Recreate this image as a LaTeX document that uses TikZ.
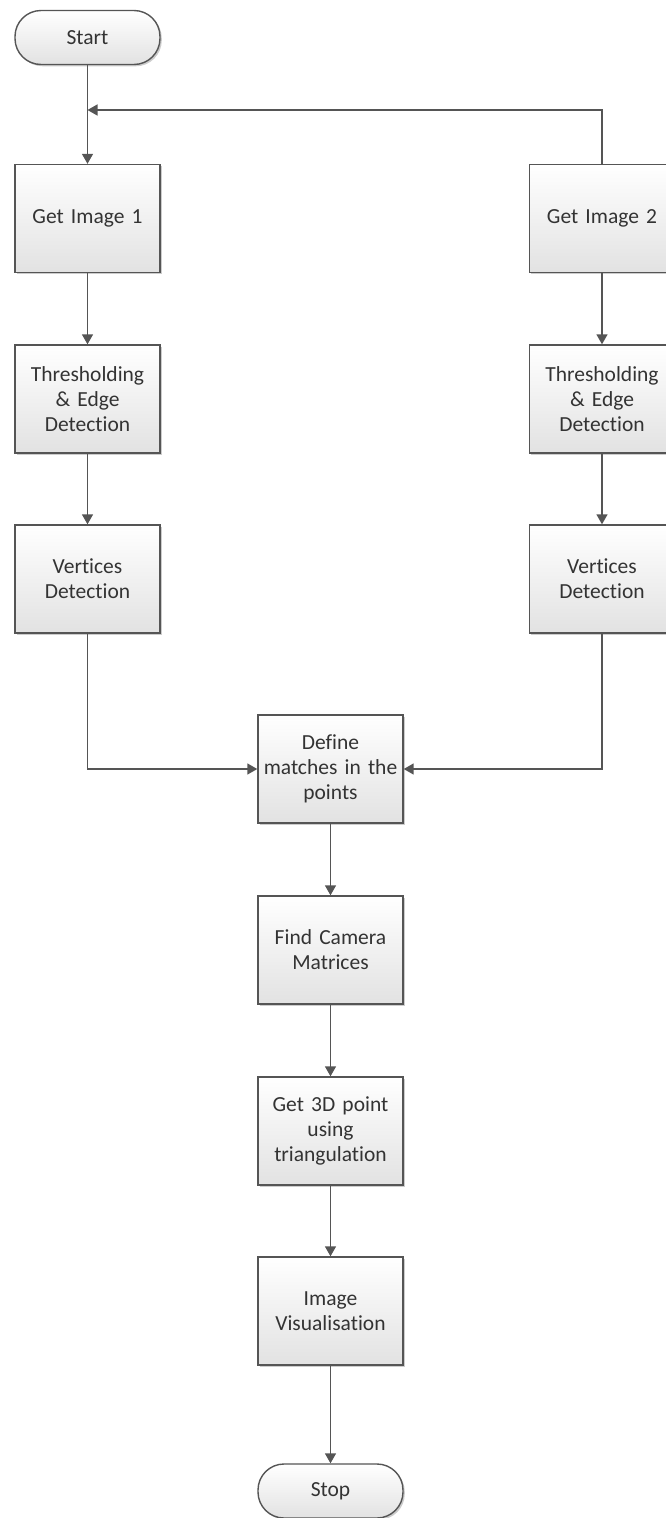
\documentclass[tikz,border=0pt]{standalone}
\usepackage{fontspec}
\setmainfont{Carlito}[RawFeature=-liga]
\usetikzlibrary{arrows.meta,shadows}
\definecolor{edge}{HTML}{555555}
\definecolor{ink}{HTML}{333333}
\definecolor{shadebottom}{HTML}{E2E2E2}
\begin{document}
\begin{tikzpicture}[x=1pt,y=-1pt,
  basebox/.style={draw=edge, line width=1.4pt, align=center,
    top color=white, bottom color=shadebottom, text=ink,
    font=\fontsize{21.5}{25}\selectfont,
    drop shadow={shadow xshift=1.8pt, shadow yshift=-1.8pt, fill=black, opacity=0.2}},
  procbox/.style={basebox, rectangle, minimum width=145pt, minimum height=108pt,
    inner sep=1pt, text width=143pt},
  termbox/.style={basebox, rectangle, rounded corners=26pt,
    minimum width=145pt, minimum height=54pt, inner sep=2pt},
  flow/.style={draw=edge, line width=1.5pt, -{Triangle[width=11pt,length=10pt]}}]

\useasboundingbox (0,0) rectangle (665,1518);

% left branch
\node[termbox] (start) at (87.5,37.5) {Start};
\node[procbox] (img1) at (87.5,218.5) {Get Image 1};
\node[procbox] (thr1) at (87.5,399) {Thresholding\\\& Edge\\Detection};
\node[procbox] (ver1) at (87.5,579) {Vertices\\Detection};

% right branch
\node[procbox] (img2) at (602,218.5) {Get Image 2};
\node[procbox] (thr2) at (602,399) {Thresholding\\\& Edge\\Detection};
\node[procbox] (ver2) at (602,579) {Vertices\\Detection};

% common trunk
\node[procbox] (match) at (330.5,769) {Define\\matches in the\\points};
\node[procbox] (cam) at (330.5,950) {Find Camera\\Matrices};
\node[procbox] (tri) at (330.5,1131) {Get 3D point\\using\\triangulation};
\node[procbox] (vis) at (330.5,1311) {Image\\Visualisation};
\node[termbox] (stop) at (330.5,1491) {Stop};

\coordinate (merge) at (87.5,110);

\draw[flow] (start) -- (img1);
\draw[flow] (img2.north) |- (merge);
\draw[flow] (img1) -- (thr1);
\draw[flow] (thr1) -- (ver1);
\draw[flow] (img2) -- (thr2);
\draw[flow] (thr2) -- (ver2);
\draw[flow] (ver1.south) |- (match.west);
\draw[flow] (ver2.south) |- (match.east);
\draw[flow] (match) -- (cam);
\draw[flow] (cam) -- (tri);
\draw[flow] (tri) -- (vis);
\draw[flow] (vis) -- (stop);
\end{tikzpicture}
\end{document}
